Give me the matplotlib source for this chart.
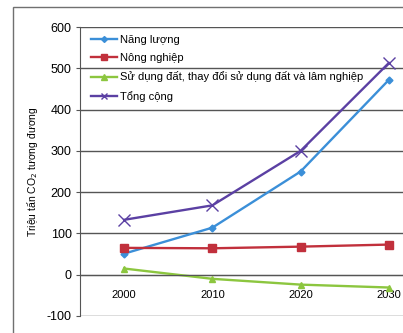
import numpy as np
import matplotlib.pyplot as plt
from matplotlib.patches import Rectangle

plt.rcParams['font.family'] = ['Liberation Sans', 'DejaVu Sans']

nam = ['2000', '2010', '2020', '2030']
nang_luong = [51, 114, 250, 472]
nong_nghiep = [65, 64, 68, 73]
dat = [15, -10, -24, -31]
tong = [133, 168, 300, 513]

fig = plt.figure(figsize=(4.03, 3.33), dpi=100)
# khung ngoai
fig.patches.append(Rectangle((13/403, -0.1), 1.2, 1 - 7/333 + 0.1, transform=fig.transFigure,
                             fill=False, ec='#707070', lw=1))
ax = fig.add_axes([80/403, 1 - 316/333, 353/403, 289/333])
x = np.arange(len(nam))

ax.plot(x, nang_luong, '-D', color='#3b8fd8', lw=1.7, ms=3.5, label=u'Năng lượng')
ax.plot(x, nong_nghiep, '-s', color='#c1303c', lw=1.7, ms=6, label=u'Nông nghiệp')
ax.plot(x, dat, '-^', color='#8cc63f', lw=1.7, ms=5,
        label=u'Sử dụng đất, thay đổi sử dụng đất và lâm nghiệp')
ax.plot(x, tong, '-x', color='#5b40a3', lw=1.7, ms=9, mew=1, label=u'Tổng cộng')

ax.set_xlim(-0.5, 3.5)
ax.set_ylim(-100, 600)
ax.set_yticks(range(-100, 601, 100))
ax.set_yticklabels([str(v) for v in range(-100, 601, 100)], fontsize=9)
ax.grid(axis='y', color='#555555', lw=1)
ax.set_axisbelow(True)
for s in ['top', 'right']:
    ax.spines[s].set_visible(False)
ax.spines['left'].set_color('#555555')
ax.spines['bottom'].set_position(('data', 0))
ax.spines['bottom'].set_color('#555555')
ax.set_xticks(x)
ax.set_xticklabels(nam, fontsize=8)
ax.tick_params(axis='x', length=0, pad=11)
ax.tick_params(axis='y', length=3, color='#555555', pad=3)

ax.set_ylabel(u'Triệu tấn CO$_2$ tương đương', fontsize=7.5, labelpad=5)

leg = ax.legend(loc='upper left', bbox_to_anchor=(0.01, 1.0), frameon=False, fontsize=8,
                handlelength=2.3, handletextpad=0.3, labelspacing=0.75, borderaxespad=0.3)
for h, m in zip(leg.legend_handles, [3, 4.5, 4, 4.5]):
    h.set_markersize(m)

fig.savefig('out.png', dpi=100)
